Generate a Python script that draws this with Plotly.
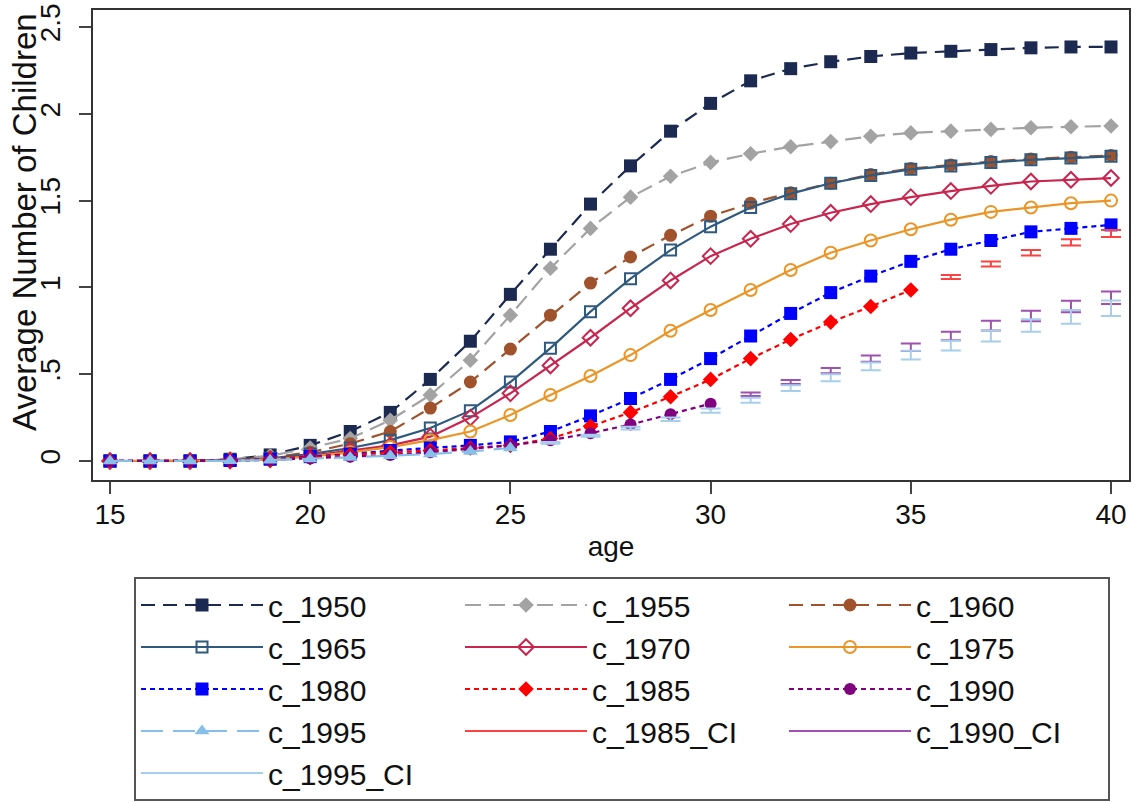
import plotly.graph_objects as go

ages = list(range(15, 41))

c_1950 = [0, 0, 0, 0.01, 0.035, 0.09, 0.17, 0.28, 0.47, 0.69, 0.96, 1.22, 1.48, 1.70, 1.90,
          2.06, 2.19, 2.26, 2.30, 2.33, 2.35, 2.36, 2.37, 2.38, 2.385, 2.385]
c_1955 = [0, 0, 0, 0.01, 0.03, 0.075, 0.13, 0.235, 0.38, 0.58, 0.84, 1.11, 1.34, 1.52, 1.64,
          1.72, 1.77, 1.81, 1.84, 1.87, 1.89, 1.90, 1.91, 1.92, 1.925, 1.93]
c_1960 = [0, 0, 0, 0.005, 0.02, 0.05, 0.10, 0.17, 0.305, 0.455, 0.645, 0.84, 1.025, 1.175, 1.30,
          1.41, 1.485, 1.545, 1.60, 1.65, 1.685, 1.705, 1.725, 1.74, 1.75, 1.76]
c_1965 = [0, 0, 0, 0.005, 0.015, 0.04, 0.075, 0.12, 0.19, 0.29, 0.455, 0.65, 0.86, 1.05, 1.215,
          1.35, 1.46, 1.54, 1.60, 1.645, 1.68, 1.70, 1.72, 1.735, 1.745, 1.755]
c_1970 = [0, 0, 0, 0.003, 0.01, 0.03, 0.06, 0.09, 0.14, 0.25, 0.39, 0.55, 0.71, 0.88, 1.04,
          1.18, 1.28, 1.365, 1.43, 1.48, 1.52, 1.555, 1.585, 1.61, 1.62, 1.63]
c_1975 = [0, 0, 0, 0.003, 0.01, 0.025, 0.05, 0.08, 0.12, 0.17, 0.265, 0.38, 0.49, 0.61, 0.75,
          0.87, 0.985, 1.10, 1.20, 1.27, 1.335, 1.39, 1.435, 1.46, 1.485, 1.50]
c_1980 = [0, 0, 0, 0.003, 0.01, 0.025, 0.04, 0.06, 0.075, 0.09, 0.11, 0.17, 0.26, 0.36, 0.47,
          0.59, 0.72, 0.85, 0.97, 1.065, 1.15, 1.22, 1.27, 1.32, 1.34, 1.36]
c_1985 = [0, 0, 0, 0.002, 0.008, 0.02, 0.035, 0.05, 0.06, 0.075, 0.09, 0.13, 0.20, 0.28, 0.37,
          0.47, 0.59, 0.70, 0.80, 0.89, 0.985, None, None, None, None, None]
c_1990 = [0, 0, 0, 0.002, 0.006, 0.015, 0.025, 0.035, 0.05, 0.07, 0.09, 0.12, 0.16, 0.21, 0.27,
          0.33] + [None] * 10
c_1995 = [0, 0, 0, 0.001, 0.005, 0.012, 0.02, 0.03, 0.04, 0.055, 0.075] + [None] * 15

ci85_ages = [36, 37, 38, 39, 40]
ci85_mid = [1.06, 1.135, 1.20, 1.26, 1.31]
ci85_half = [0.012, 0.014, 0.016, 0.018, 0.02]

ci90_ages = list(range(31, 41))
ci90_mid = [0.385, 0.455, 0.52, 0.59, 0.655, 0.72, 0.78, 0.835, 0.89, 0.94]
ci90_half = [0.01, 0.012, 0.015, 0.018, 0.022, 0.025, 0.028, 0.03, 0.033, 0.036]

ci95_ages = list(range(26, 41))
ci95_mid = [0.105, 0.145, 0.19, 0.24, 0.29, 0.35, 0.42, 0.48, 0.545, 0.61, 0.665, 0.72,
            0.78, 0.83, 0.88]
ci95_half = [0.005, 0.006, 0.008, 0.01, 0.012, 0.014, 0.017, 0.02, 0.022, 0.025, 0.028,
             0.032, 0.036, 0.04, 0.045]

y_ticks = [0, 0.5, 1, 1.5, 2, 2.5]
y_ticktext = ["0", ".5", "1", "1.5", "2", "2.5"]
x_ticks = [15, 20, 25, 30, 35, 40]

FONT = "Liberation Sans, Arial, sans-serif"

series = [
    ("c_1950", c_1950, "#1c2a52", "14px,8px", "square", 13, 0),
    ("c_1955", c_1955, "#a3a3a3", "16px,8px", "diamond", 12, 0),
    ("c_1960", c_1960, "#a0522d", "14px,8px", "circle", 13, 0),
    ("c_1965", c_1965, "#2f5a7e", "solid", "square-open", 11, 2),
    ("c_1970", c_1970, "#c8254f", "solid", "diamond-open", 12, 2),
    ("c_1975", c_1975, "#eb9527", "solid", "circle-open", 12, 2),
    ("c_1980", c_1980, "#0000ff", "5px,4px", "square", 13, 0),
    ("c_1985", c_1985, "#ff0000", "5px,4px", "diamond", 12, 0),
    ("c_1990", c_1990, "#800080", "5px,4px", "circle", 12, 0),
    ("c_1995", c_1995, "#87bfe8", "22px,10px", "triangle-up", 13, 0),
]

fig = go.Figure()
for name, vals, col, dash, sym, size, lw in series:
    fig.add_trace(go.Scatter(
        x=ages, y=vals, name=name, mode="lines+markers",
        line=dict(color=col, width=2.2, dash=dash),
        marker=dict(symbol=sym, size=size, color=col, line=dict(width=lw, color=col)),
        connectgaps=False,
    ))

cis = [
    ("c_1985_CI", ci85_ages, ci85_mid, ci85_half, "#ff4040"),
    ("c_1990_CI", ci90_ages, ci90_mid, ci90_half, "#a050b0"),
    ("c_1995_CI", ci95_ages, ci95_mid, ci95_half, "#a6cfee"),
]
# legend entries for CI
for name, xa, mid, half, col in cis:
    fig.add_trace(go.Scatter(
        x=[None], y=[None], name=name, mode="lines",
        line=dict(color=col, width=2), legendgroup=name,
    ))
for name, xa, mid, half, col in cis:
    fig.add_trace(go.Scatter(
        x=xa, y=mid, name=name, mode="markers", showlegend=False, legendgroup=name,
        marker=dict(size=1, color="rgba(0,0,0,0)"),
        error_y=dict(type="data", array=half, symmetric=True, color=col,
                     thickness=2, width=10),
    ))

W, H = 1136, 803
L, R, T, B = 93, 7, 10, 323
pw = W - L - R
ph = H - T - B

fig.update_layout(
    width=W, height=H,
    margin=dict(l=L, r=R, t=T, b=B, autoexpand=False),
    paper_bgcolor="white", plot_bgcolor="white",
    font=dict(family=FONT, size=28, color="#111"),
    showlegend=True,
    legend=dict(
        orientation="h", x=(134 - L) / pw, xanchor="left",
        y=(T + ph - 577) / ph, yanchor="top",
        bordercolor="#555", borderwidth=2, bgcolor="white",
        font=dict(family=FONT, size=30, color="#111"),
        itemwidth=122, entrywidth=187, entrywidthmode="pixels",
        traceorder="normal", itemsizing="trace",
    ),
    annotations=[dict(
        text="Average Number of Children", textangle=-90,
        xref="paper", yref="paper",
        x=(24 - L) / pw, y=(T + ph - 222) / ph,
        xanchor="center", yanchor="middle", showarrow=False,
        font=dict(family=FONT, size=33, color="#111"),
    )],
)

fig.update_xaxes(
    range=[15 - 17 / 40.04, 40 + 18 / 40.04],
    tickvals=x_ticks, ticks="outside", ticklen=12, tickwidth=2, tickcolor="#444",
    showline=True, linecolor="#333", linewidth=2, mirror=True,
    showgrid=False, zeroline=False,
    tickfont=dict(family=FONT, size=28, color="#111"),
    ticklabelstandoff=-4,
    title=dict(text="age", standoff=8, font=dict(family=FONT, size=28, color="#111")),
)
fig.update_yaxes(
    range=[-19 / 173.6, (461 - 10) / 173.6],
    tickvals=y_ticks, ticktext=y_ticktext, tickangle=-90,
    ticks="outside", ticklen=12, tickwidth=2, tickcolor="#444",
    showline=True, linecolor="#333", linewidth=2, mirror=True,
    showgrid=False, zeroline=False,
    tickfont=dict(family=FONT, size=28, color="#111"),
    ticklabelstandoff=8,
)

fig.write_html("out.html", config={"displayModeBar": False},
               post_script="document.body.style.margin='0';")
